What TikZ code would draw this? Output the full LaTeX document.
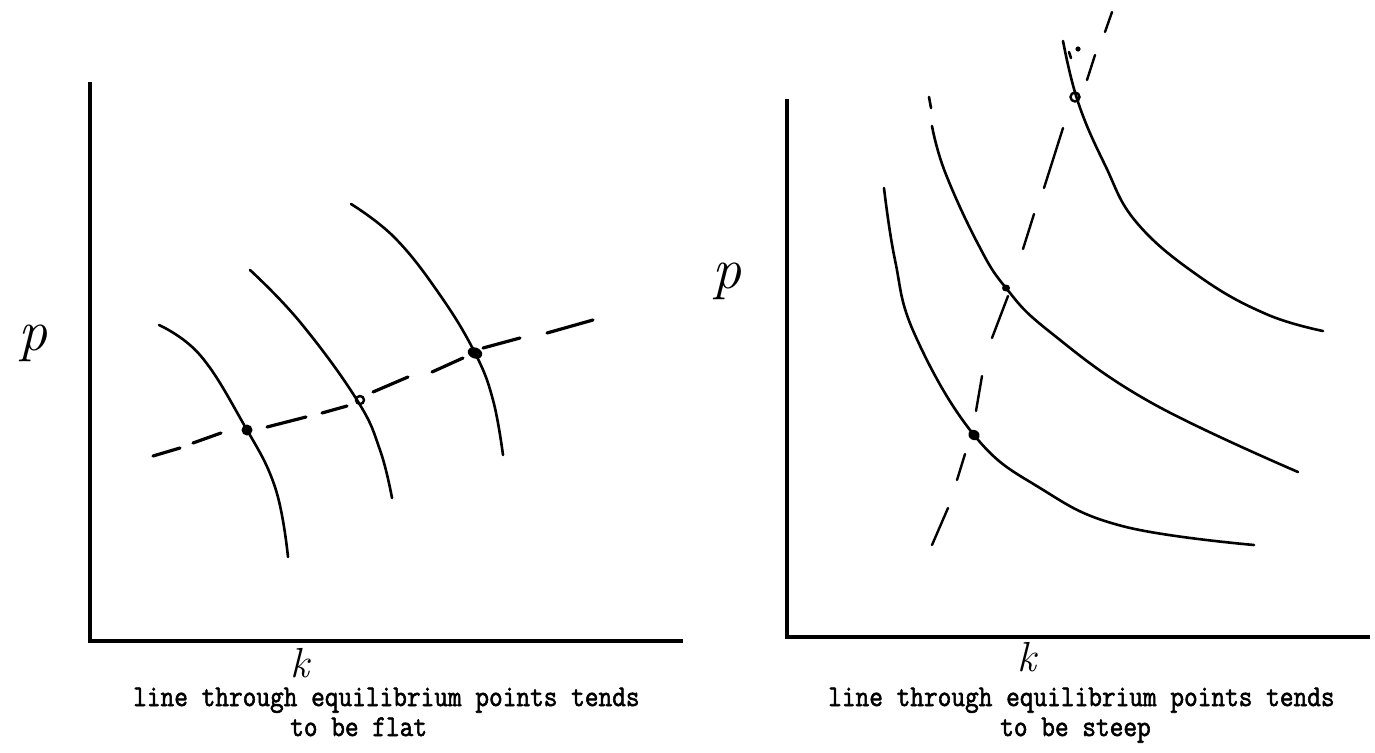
\documentclass[tikz,border=0pt]{standalone}
\usepackage{fontspec}
\usetikzlibrary{shapes.geometric}
\newfontfamily\capfont[FakeBold=2]{Latin Modern Mono}
\newfontfamily\handfont{Latin Modern Roman}
\newcommand{\captxt}[1]{\scalebox{0.88}[1]{#1}}
\begin{document}
\begin{tikzpicture}[x=1pt,y=-1pt,
  axisline/.style={line width=4.5pt},
  curve/.style={line width=2.6pt, line cap=round, line join=round},
  dashseg/.style={line width=3.2pt, line cap=round},
  thindash/.style={line width=2.4pt, line cap=round},
  blob/.style={ellipse, fill=black, inner sep=0pt},
  ring/.style={circle, draw=black, line width=2.4pt, inner sep=0pt},
  captext/.style={font=\capfont\fontsize{30.2}{34}\selectfont, inner sep=0pt, anchor=base west},
  handp/.style={font=\handfont\itshape\fontsize{58}{58}\selectfont, inner sep=0pt},
  handk/.style={font=\handfont\itshape\fontsize{42}{42}\selectfont, inner sep=0pt}]
\useasboundingbox[fill=white] (0,0) rectangle (1375,752);

% ---------- left panel ----------
\coordinate (LO) at (90,641);
\coordinate (LT) at (90,82);
\coordinate (LR) at (683,641);
\draw[axisline] (LT) -- (LO) -- (LR);

\draw[curve] plot[smooth, tension=0.7] coordinates {(159,325) (200,355) (243,423) (275,487) (288,557)};
\draw[curve] plot[smooth, tension=0.7] coordinates {(250,270) (300,322) (357,400) (380,450) (392,498)};
\draw[curve] plot[smooth, tension=0.7] coordinates {(351,204) (395,238) (440,295) (475,353) (493,400) (503,455)};

\draw[dashseg] (153,456) -- (180,448);
\draw[dashseg] (193,443) -- (221,433);
\draw[dashseg] (267,427) -- (306,417);
\draw[dashseg] (322,413) -- (347,406);
\draw[dashseg] (373,392) -- (408,377);
\draw[dashseg] (432,372) -- (463,358);
\draw[dashseg] (483,348) -- (520,338);
\draw[dashseg] (547,333) -- (593,320);

\node[blob, minimum width=11pt, minimum height=11pt] (e1) at (247,430) {};
\node[ring, minimum size=8pt] (e2) at (360,400) {};
\node[blob, minimum width=15pt, minimum height=11pt, rotate=-20] (e3) at (475,353) {};

\node[handp] (lp) at (33,343) {p};
\node[handk] (lk) at (300,663) {k};
\node[captext] (lc1) at (133,706) {\captxt{line through equilibrium points tends}};
\node[captext] (lc2) at (290,736) {\captxt{to be flat}};

% ---------- right panel ----------
\coordinate (RO) at (787,637);
\coordinate (RT) at (787,99);
\coordinate (RR) at (1370,637);
\draw[axisline] (RT) -- (RO) -- (RR);

\draw[curve] plot[smooth, tension=0.7] coordinates {(884,188) (895,260) (915,335) (974,435) (1040,488) (1122,526) (1254,545)};
\draw[curve] plot[smooth, tension=0.7] coordinates {(932,126) (945,172) (978,244) (1006,288) (1050,332) (1150,402) (1298,472)};
\draw[curve] (929,97) -- (931,108);
\draw[curve] plot[smooth, tension=0.7] coordinates {(1063,41) (1078,102) (1105,165) (1137,223) (1200,277) (1266,314) (1323,331)};

\draw[thindash] (932,545) -- (948,508);
\draw[thindash] (957,480) -- (965,454);
\draw[thindash] (976,411) -- (982,376);
\draw[thindash] (992,338) -- (1008,296);
\draw[thindash] (1023,249) -- (1034,214);
\draw[thindash] (1044,188) -- (1063,128);
\draw[thindash] (1087,80) -- (1095,55);
\draw[thindash] (1105,32) -- (1112,12);
\draw[curve] (1069,52) -- (1071,58);
\fill (1078,49) circle (2.6pt);

\node[blob, minimum width=12pt, minimum height=10pt, rotate=-30] (f1) at (974,435) {};
\node[blob, minimum width=8pt, minimum height=7pt] (f2) at (1006,288) {};
\node[ring, minimum size=9pt] (f3) at (1075,97) {};

\node[handp] (rp) at (727,281) {p};
\node[handk] (rk) at (1027,657) {k};
\node[captext] (rc1) at (828,706) {\captxt{line through equilibrium points tends}};
\node[captext] (rc2) at (1000,736) {\captxt{to be steep}};
\end{tikzpicture}
\end{document}
